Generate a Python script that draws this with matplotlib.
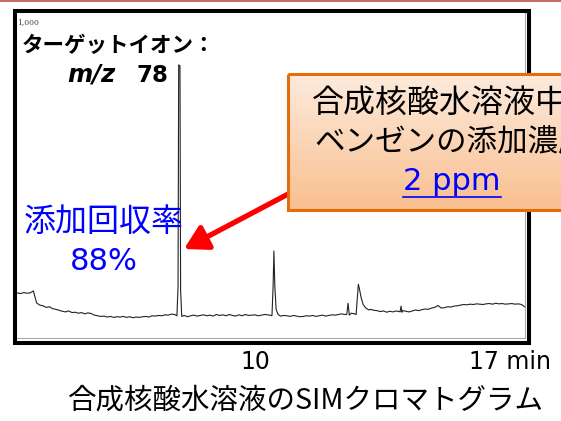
import matplotlib
matplotlib.use("Agg")
import matplotlib.pyplot as plt
import numpy as np
from matplotlib.patches import Rectangle, FancyArrowPatch
from matplotlib.colors import LinearSegmentedColormap

plt.rcParams['font.family'] = ['Noto Sans CJK JP', 'DejaVu Sans']

# SIM chromatogram, m/z 78 (retention time in min, abundance on a 0-1000 scale)
# baseline scans, every 0.1 min from 2.6 min
scan_start = 2.6
scan_step = 0.1
baseline = [131, 129, 132, 130, 131,
            137, 100, 93, 91, 86, 88, 82, 80, 77, 74,
            72, 75, 70, 71, 68, 70, 66, 69, 67,
            62, 60, 58, 59, 56, 58, 55, 57, 56, 58,
            55, 57, 54, 56, 55, 57, 58, 56, 60, 59,
            61, 60, 63, 62, 65, 64,
            62, 58, 61, 57,
            60, 62, 59, 61, 63, 60, 62, 59, 64, 61,
            63, 60, 64, 61, 59, 63, 60, 64, 61, 62,
            63, 60, 62, 64, 63, 61, 60, 62, 59, 61,
            60, 58, 61, 59, 57, 58, 60, 59, 61, 58,
            60, 62, 59, 61, 63, 62, 64, 66, 64, 63,
            68, 66, 67, 95, 90, 84, 80, 77, 76, 73,
            75, 71, 74, 72, 75, 73, 76, 74, 72, 75,
            78, 76, 79, 81, 80, 84, 86, 92, 84, 85,
            88, 87, 90, 91, 93, 95, 94, 96, 95, 97,
            96, 95, 97, 98, 96, 99, 97, 98, 96, 97,
            98, 96, 97, 95, 88]

# peaks (time, abundance)
peak_benzene_t = [7.57, 7.605, 7.625, 7.665, 7.685, 7.72]
peak_benzene_y = [60, 150, 839, 836, 140, 58]
peak_2_t = [10.53, 10.565, 10.59, 10.62, 10.66, 10.72]
peak_2_y = [60, 150, 261, 150, 80, 64]
peak_3_t = [12.86, 12.90, 12.94]
peak_3_y = [64, 99, 62]
peak_4_t = [13.15, 13.19, 13.22, 13.26, 13.31, 13.37, 13.45, 13.55]
peak_4_y = [64, 120, 158, 140, 115, 95, 84, 78]
peak_5_t = [14.52, 14.55, 14.58]
peak_5_y = [72, 90, 71]

tick_pos = [10, 17]
tick_text = ["10", "17 min"]

# merge scans and peaks
base_t = scan_start + scan_step * np.arange(len(baseline))
base_y = np.array(baseline, dtype=float)
keep = np.ones(len(base_t), dtype=bool)
all_t, all_y = [], []
for pt, py in [(peak_benzene_t, peak_benzene_y), (peak_2_t, peak_2_y),
               (peak_3_t, peak_3_y), (peak_4_t, peak_4_y), (peak_5_t, peak_5_y)]:
    keep &= ~((base_t >= min(pt)) & (base_t <= max(pt)))
    all_t += pt
    all_y += py
t = np.concatenate([base_t[keep], all_t])
y = np.concatenate([base_y[keep], all_y])
order = np.argsort(t)
t, y = t[order], y[order]

W, H = 561, 421
fig = plt.figure(figsize=(W / 100, H / 100), dpi=100)


def px_box(x0, y0, x1, y1):
    return [x0 / W, 1 - y1 / H, (x1 - x0) / W, (y1 - y0) / H]


# chromatogram
ax = fig.add_axes(px_box(17, 13, 525, 338))
ax.plot(t, y, color='#222222', lw=0.8)
ax.set_xlim(2.59, 18.41)
ax.set_ylim(-9, 1000)
ax.set_yticks([])
ax.set_xticks([])
for s in ['left', 'top']:
    ax.spines[s].set_visible(False)
for s in ['right', 'bottom']:
    ax.spines[s].set_color('#aaaaaa')
    ax.spines[s].set_linewidth(0.8)
ax.text(0.0, 0.985, "1,000", transform=ax.transAxes, fontsize=5.5,
        family='DejaVu Serif', color='#444444', va='top', ha='left')
offsets = [(0, -17, 'center'), (-8, -17, 'left')]
for pos, lab, (dx, dy, ha) in zip(tick_pos, tick_text, offsets):
    ax.annotate(lab, xy=(pos, 0), xycoords=('data', 'axes fraction'),
                xytext=(dx, dy), textcoords='offset points',
                ha=ha, va='center', fontsize=17, family='DejaVu Sans',
                annotation_clip=False)

# overlay in pixel coordinates
ov = fig.add_axes([0, 0, 1, 1])
ov.axis('off')

ov.plot([0, W], [0.8, 0.8], color='#C0504D', lw=1.2)
ov.add_patch(Rectangle((15, 11), 514, 332, fill=False, ec='black', lw=2.9))

ov.text(22, 45, "ターゲットイオン：", fontsize=15.5, fontweight='bold',
        ha='left', va='center')
ov.text(67, 75, "m/z", fontsize=17.5, fontweight='bold', style='italic',
        family='DejaVu Sans', ha='left', va='center')
ov.text(137, 75, "78", fontsize=16.5, fontweight='bold',
        family='DejaVu Sans', ha='left', va='center')

ov.text(104, 222, "添加回収率", fontsize=23, color='#0000FF',
        ha='center', va='center')
ov.text(104, 261, "88%", fontsize=22, color='#0000FF',
        family='DejaVu Sans', ha='center', va='center')

arrow = FancyArrowPatch((292, 192), (184, 249),
                        arrowstyle='-|>,head_length=14,head_width=8',
                        mutation_scale=1, color='#FF0000', lw=3.8,
                        shrinkA=0, shrinkB=0, zorder=2)
ov.add_patch(arrow)

cmap = LinearSegmentedColormap.from_list('peach', ['#FDEBDD', '#F9BF8F'])
grad = np.linspace(0, 1, 100).reshape(-1, 1)
ov.imshow(grad, extent=(288, 640, 210, 74), aspect='auto', cmap=cmap,
          origin='upper', zorder=3)
ov.add_patch(Rectangle((288, 74), 352, 136, fill=False, ec='#E46C0A',
                       lw=2.2, zorder=4))
ov.text(312, 103, "合成核酸水溶液中の", fontsize=23, ha='left', va='center',
        zorder=5)
ov.text(314, 142, "ベンゼンの添加濃度", fontsize=22, ha='left', va='center',
        zorder=5)
ppm = ov.text(452, 182, "2 ppm", fontsize=22, color='#0000FF',
              family='DejaVu Sans', ha='center', va='center', zorder=5)

ov.text(306, 401, "合成核酸水溶液のSIMクロマトグラム", fontsize=20.5,
        ha='center', va='center')

ov.set_xlim(0, W)
ov.set_ylim(H, 0)

# underline for "2 ppm"
fig.canvas.draw()
bb = ppm.get_window_extent()
inv = ov.transData.inverted()
(ux0, _), (ux1, _) = inv.transform([(bb.x0, bb.y0), (bb.x1, bb.y0)])
ov.plot([ux0, ux1], [197, 197], color='#0000FF', lw=1.2, zorder=5)
ov.set_xlim(0, W)
ov.set_ylim(H, 0)

fig.savefig("out.png", dpi=100)
